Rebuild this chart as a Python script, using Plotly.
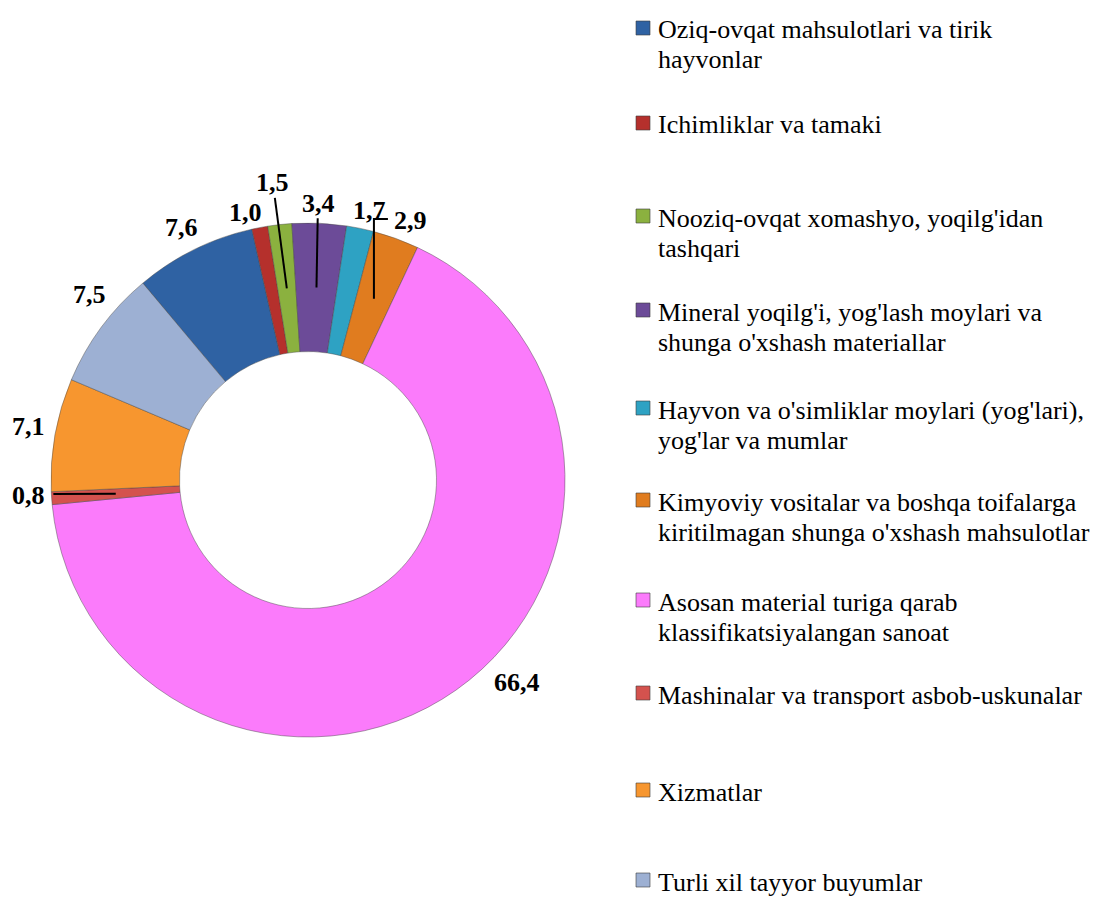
import math
import plotly.graph_objects as go

# ---------------- data ----------------
categories = [
    "Oziq-ovqat mahsulotlari va tirik\nhayvonlar",
    "Ichimliklar va tamaki",
    "Nooziq-ovqat xomashyo, yoqilg'idan\ntashqari",
    "Mineral yoqilg'i, yog'lash moylari va\nshunga o'xshash materiallar",
    "Hayvon va o'simliklar moylari (yog'lari),\nyog'lar va mumlar",
    "Kimyoviy vositalar va boshqa toifalarga\nkiritilmagan shunga o'xshash mahsulotlar",
    "Asosan material turiga qarab\nklassifikatsiyalangan sanoat",
    "Mashinalar va transport asbob-uskunalar",
    "Xizmatlar",
    "Turli xil tayyor buyumlar",
]
values = [7.6, 1.0, 1.5, 3.4, 1.7, 2.9, 66.4, 0.8, 7.1, 7.5]
colors = ["#2F62A3", "#B5302C", "#8BB13F", "#6C4B98", "#2EA2C3",
          "#E07C1F", "#FB7BFB", "#D4524E", "#F7962F", "#9DB0D3"]

# ---------------- layout helpers ----------------
OFF = 8                      # default page body margin
W, H = 1101 - OFF, 900 - OFF  # figure size
CX, CY, R = 308, 480, 257    # pie centre / radius in window px
ROTATION = -40
HOLE = 0.5
FONT = "'Liberation Serif', 'Times New Roman', serif"


def px(x, y):
    return (x - OFF) / W, 1 - (y - OFF) / H


def polar(angle_deg, r):
    a = math.radians(angle_deg)
    return CX + r * math.sin(a), CY - r * math.cos(a)


total = sum(values)
mids = []
acc = 0
for v in values:
    mids.append(ROTATION + (acc + v / 2) / total * 360)
    acc += v

# label placement tweaks (style, not data)
label_dang = [-0.3, -2.4, -0.4, -0.4, 1.2, 1.5, -10.7, 0.9, 0.6, 3.9]
label_r = [282, 275, 300, 277, 277, 279, 291, 280, 285, 287]

dx0, dy1 = px(CX - R, CY - R)
dx1, dy0 = px(CX + R, CY + R)

fig = go.Figure()
fig.add_trace(go.Pie(
    labels=[c.replace("\n", " ") for c in categories],
    values=values,
    marker=dict(colors=colors, line=dict(color="rgba(70,70,70,0.45)", width=1)),
    hole=HOLE,
    sort=False,
    direction="clockwise",
    rotation=ROTATION,
    textinfo="none",
    showlegend=False,
    domain=dict(x=[dx0, dx1], y=[dy0, dy1]),
))

annotations = []
shapes = []

# data labels
for i, v in enumerate(values):
    x, y = polar(mids[i] + label_dang[i], label_r[i])
    xp, yp = px(x, y)
    annotations.append(dict(
        x=xp, y=yp, xref="paper", yref="paper", showarrow=False,
        text="<b>" + f"{v:.1f}".replace(".", ",") + "</b>",
        font=dict(family=FONT, size=26, color="black"),
        xanchor="center", yanchor="middle"))

# leader lines
ring_mid = R * (1 + HOLE) / 2
for i, r_start in [(2, 284), (3, 262), (7, 255)]:
    x0, y0 = polar(mids[i] + label_dang[i], r_start)
    x1, y1 = polar(mids[i], ring_mid)
    a0, b0 = px(x0, y0)
    a1, b1 = px(x1, y1)
    shapes.append(dict(type="line", xref="paper", yref="paper",
                       x0=a0, y0=b0, x1=a1, y1=b1,
                       line=dict(color="black", width=2)))
# elbow leader for the 2,9 slice
ex, ey = polar(mids[5], ring_mid)
elbow_y = 219
path_pts = [(ex, ey), (ex, elbow_y), (ex + 14, elbow_y)]
path = "M " + " L ".join(f"{px(a, b)[0]},{px(a, b)[1]}" for a, b in path_pts)
shapes.append(dict(type="path", xref="paper", yref="paper", path=path,
                   line=dict(color="black", width=2)))

# manual legend
legend_y = [30, 125, 218, 312, 410, 502, 602, 695, 792, 882]
LINE_H = 30
for i, cat in enumerate(categories):
    y0 = legend_y[i]
    mx0, my0 = px(636, y0 - 9)
    mx1, my1 = px(650, y0 + 5)
    shapes.append(dict(type="rect", xref="paper", yref="paper",
                       x0=mx0, y0=my0, x1=mx1, y1=my1,
                       fillcolor=colors[i], line=dict(color="rgba(60,60,60,0.6)", width=1)))
    for j, line in enumerate(cat.split("\n")):
        tx, ty = px(656, y0 + j * LINE_H)
        annotations.append(dict(
            x=tx, y=ty, xref="paper", yref="paper", showarrow=False,
            text=line, font=dict(family=FONT, size=26, color="black"),
            xanchor="left", yanchor="middle"))

fig.update_layout(
    width=W, height=H,
    margin=dict(l=0, r=0, t=0, b=0),
    paper_bgcolor="white", plot_bgcolor="white",
    showlegend=False,
    annotations=annotations,
    shapes=shapes,
)

fig.write_html("out.html")
